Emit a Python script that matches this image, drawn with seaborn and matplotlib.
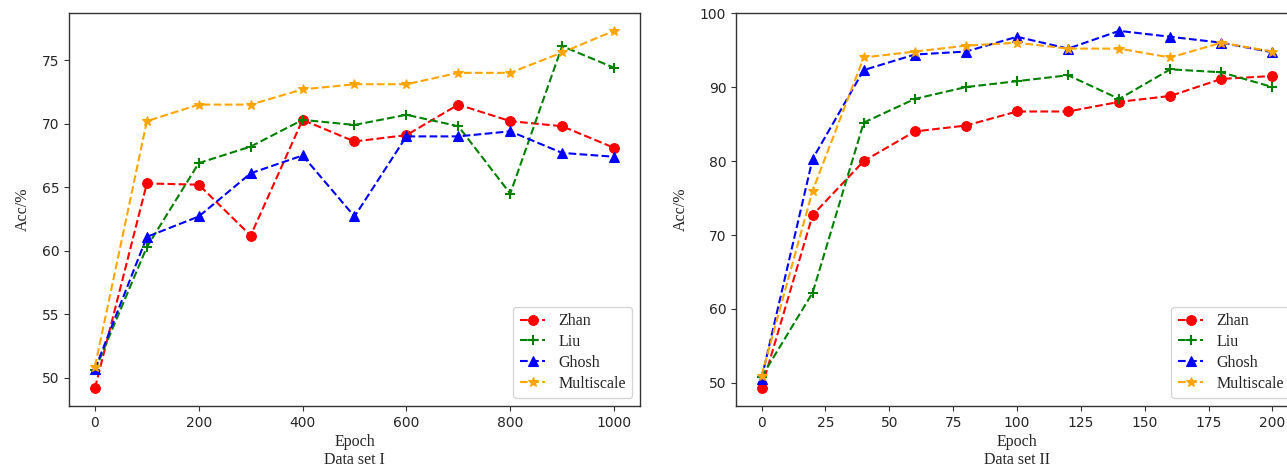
import matplotlib
matplotlib.use("Agg")
import matplotlib.pyplot as plt
import seaborn as sns
import pandas as pd

# ---- data ----
methods = ["Zhan", "Liu", "Ghosh", "Multiscale"]

epochs_1 = [0, 100, 200, 300, 400, 500, 600, 700, 800, 900, 1000]
zhan_1 = [49.2, 65.3, 65.2, 61.2, 70.3, 68.6, 69.1, 71.5, 70.2, 69.8, 68.1]
liu_1 = [50.6, 60.3, 66.9, 68.2, 70.3, 69.9, 70.7, 69.8, 64.5, 76.1, 74.4]
ghosh_1 = [50.7, 61.1, 62.7, 66.1, 67.5, 62.7, 69.0, 69.0, 69.4, 67.7, 67.4]
multi_1 = [50.9, 70.2, 71.5, 71.5, 72.7, 73.1, 73.1, 74.0, 74.0, 75.6, 77.3]

epochs_2 = [0, 20, 40, 60, 80, 100, 120, 140, 160, 180, 200]
zhan_2 = [49.3, 72.7, 80.0, 84.0, 84.8, 86.7, 86.7, 88.0, 88.8, 91.1, 91.5]
liu_2 = [50.8, 62.2, 85.2, 88.4, 90.0, 90.8, 91.6, 88.4, 92.4, 92.0, 90.0]
ghosh_2 = [50.6, 80.3, 92.3, 94.4, 94.8, 96.8, 95.2, 97.6, 96.8, 96.0, 94.7]
multi_2 = [51.0, 76.0, 94.0, 94.8, 95.6, 96.0, 95.2, 95.2, 94.0, 96.0, 94.8]

captions = ["Data set I", "Data set II"]

# ---- style ----
sns.set_theme(style="ticks")
plt.rcParams["font.family"] = ["DejaVu Sans"]
serif = ["Liberation Serif", "DejaVu Serif"]

colors = {"Zhan": "red", "Liu": "green", "Ghosh": "blue", "Multiscale": "orange"}
markers = {"Zhan": "o", "Liu": "+", "Ghosh": "^", "Multiscale": "*"}
msizes = {"Zhan": 7, "Liu": 7, "Ghosh": 7, "Multiscale": 7}

fig = plt.figure(figsize=(12.87, 4.70), dpi=100)
ax1 = fig.add_axes([69 / 1287, 1 - 406 / 470, 571 / 1287, 393 / 470])
ax2 = fig.add_axes([736 / 1287, 1 - 406 / 470, 562 / 1287, 393 / 470])

datasets = [
    (ax1, epochs_1, [zhan_1, liu_1, ghosh_1, multi_1], captions[0]),
    (ax2, epochs_2, [zhan_2, liu_2, ghosh_2, multi_2], captions[1]),
]

for ax, ep, series, cap in datasets:
    for name, vals in zip(methods, series):
        c = colors[name]
        sns.lineplot(x=ep, y=vals, ax=ax, color=c, linestyle="--", linewidth=1.5,
                     marker=markers[name], markersize=msizes[name],
                     markeredgecolor=c, markerfacecolor=c,
                     markeredgewidth=1.5 if name == "Liu" else 0.8,
                     label=name)
    ax.set_xlabel("Epoch", family=serif, fontsize=11.5, labelpad=3)
    ax.set_ylabel("Acc/%", family=serif, fontsize=11.5, labelpad=8)
    ax.text(0.5, -0.138, cap, transform=ax.transAxes, ha="center", va="center",
            family=serif, fontsize=11.5)
    ax.tick_params(labelsize=10, length=3.5, width=0.8, color="#333333")
    for sp in ax.spines.values():
        sp.set_color("#333333")
        sp.set_linewidth(1.0)
    leg = ax.legend(loc="lower right", prop={"family": serif, "size": 11.5},
                    handlelength=1.6, borderaxespad=0.5, labelspacing=0.3)

ax1.set_xticks([0, 200, 400, 600, 800, 1000])
ax1.set_yticks([50, 55, 60, 65, 70, 75])
ax2.set_xticks([0, 25, 50, 75, 100, 125, 150, 175, 200])
ax2.set_yticks([50, 60, 70, 80, 90, 100])

fig.savefig("out.png", dpi=100)
